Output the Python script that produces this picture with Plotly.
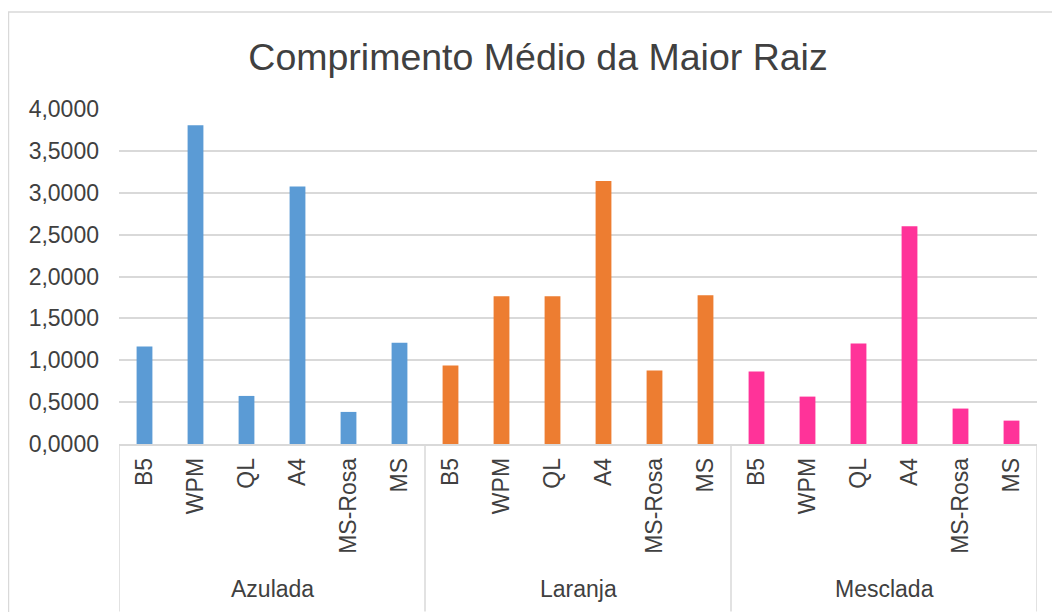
import plotly.graph_objects as go

groups = ["Azulada", "Laranja", "Mesclada"]
names = ["B5", "WPM", "QL", "A4", "MS-Rosa", "MS"]
azulada = [1.165, 3.805, 0.574, 3.075, 0.383, 1.208]
laranja = [0.937, 1.763, 1.763, 3.139, 0.877, 1.775]
mesclada = [0.865, 0.566, 1.200, 2.600, 0.423, 0.279]
colors = ["#5B9BD5", "#ED7D31", "#FF3399"]
y_ticks = [0, 0.5, 1.0, 1.5, 2.0, 2.5, 3.0, 3.5, 4.0]

series = [azulada, laranja, mesclada]
n = len(names)
fig = go.Figure()
all_x, all_text = [], []
for gi, (g, vals, c) in enumerate(zip(groups, series, colors)):
    xs = [gi * n + i for i in range(n)]
    all_x += xs
    all_text += names
    fig.add_trace(go.Bar(x=xs, y=vals, name=g, marker=dict(color=c, line=dict(width=0)),
                         width=0.31, showlegend=False))

font_family = "Liberation Sans, Arial, sans-serif"
txt = "#404040"

shapes = []
# group dividers
for k in range(len(groups) + 1):
    xv = k * n - 0.5
    shapes.append(dict(type="line", xref="x", yref="paper", x0=xv, x1=xv, y0=0, y1=-0.5,
                       line=dict(color="#D9D9D9", width=1.5)))
# chart frame
shapes.append(dict(type="rect", xref="paper", yref="paper", x0=-0.1204, x1=1.5, y0=-1, y1=1.2896,
                   line=dict(color="#D9D9D9", width=1.5), fillcolor="rgba(0,0,0,0)", layer="below"))

annotations = []
for gi, g in enumerate(groups):
    annotations.append(dict(x=gi * n + (n - 1) / 2, y=-0.434, xref="x", yref="paper", text=g,
                            showarrow=False, font=dict(size=23, color=txt, family=font_family),
                            xanchor="center", yanchor="middle"))

fig.update_layout(
    width=1060, height=612,
    margin=dict(l=111, r=31, t=101, b=176),
    paper_bgcolor="white", plot_bgcolor="white",
    separators=",.",
    title=dict(text="Comprimento Médio da Maior Raiz", x=0.5, xref="container", xanchor="center",
               y=1 - 49 / 612, yanchor="middle",
               font=dict(size=37.5, color=txt, family=font_family)),
    font=dict(family=font_family, color=txt, size=23),
    bargap=0.69,
    shapes=shapes,
    annotations=annotations,
    xaxis=dict(range=[-0.5, len(groups) * n - 0.5], tickmode="array", tickvals=all_x, ticktext=all_text,
               tickangle=-90, showgrid=False, zeroline=False, showline=True, linecolor="#D9D9D9",
               linewidth=1.5, ticks="", ticklabelstandoff=3,
               tickfont=dict(size=23, color=txt, family=font_family)),
    yaxis=dict(range=[0, 4.0], tickmode="array", tickvals=y_ticks, tickformat=".4f",
               showgrid=True, gridcolor="#D9D9D9", gridwidth=1.5, zeroline=False, showline=False,
               ticks="", ticklabelstandoff=19,
               tickfont=dict(size=23, color=txt, family=font_family)),
)

fig.write_html("out.html")
